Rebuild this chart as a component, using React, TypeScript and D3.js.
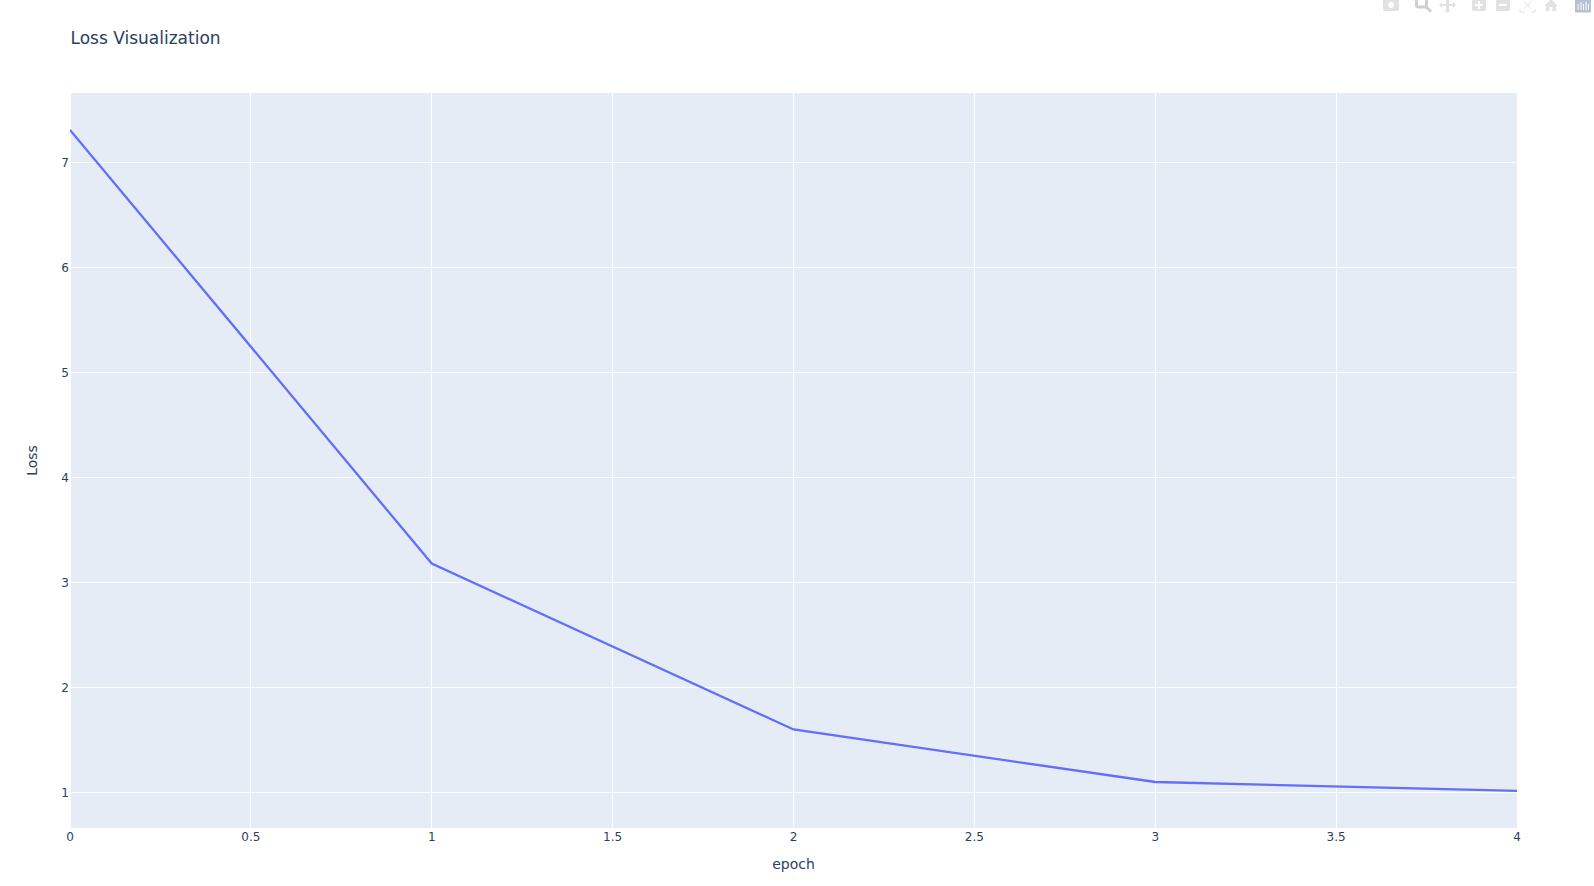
import React from "react";
import * as d3 from "d3";

const epochs = [0, 1, 2, 3, 4];
const losses = [7.31, 3.18, 1.6, 1.1, 1.015];
const xTicks = [0, 0.5, 1, 1.5, 2, 2.5, 3, 3.5, 4];
const yTicks = [1, 2, 3, 4, 5, 6, 7];
const titleText = "Loss Visualization";
const xTitle = "epoch";
const yTitle = "Loss";

const W = 1594, H = 886;
const L = 71, R = 1517, T = 93, B = 828;
const FONT = '"DejaVu Sans", Verdana, sans-serif';
const INK = "#2a3f5f";
const GREY = "#e2e2e2";

export default function App() {
  const x = d3.scaleLinear().domain([0, 4]).range([70, 1517]);
  const y = d3.scaleLinear().domain([1, 7]).range([792.5, 162.5]);
  const line = d3.line<number>().x((_, i) => x(epochs[i])).y((d) => y(d));
  const crisp = (v: number) => Math.floor(v) + 0.5;
  return (
    <svg width={W} height={H} style={{ position: "absolute", left: 0, top: 0 }} fontFamily={FONT}>
      <rect width={W} height={H} fill="#fff" />
      <rect x={L} y={T} width={R - L} height={B - T} fill="#e5ecf6" />
      {xTicks.map((t) => (
        <line key={t} x1={crisp(x(t))} x2={crisp(x(t))} y1={T} y2={B} stroke="#fff" strokeWidth={1} />
      ))}
      {yTicks.map((t) => (
        <line key={t} x1={L} x2={R} y1={y(t)} y2={y(t)} stroke="#fff" strokeWidth={1} />
      ))}
      <clipPath id="plot"><rect x={L - 1} y={T} width={R - L + 1} height={B - T} /></clipPath>
      <path d={line(losses)!} fill="none" stroke="#636efa" strokeWidth={2.3} clipPath="url(#plot)" />
      {xTicks.map((t) => (
        <text key={t} x={x(t)} y={841} textAnchor="middle" fontSize={12} fill={INK}>{t}</text>
      ))}
      {yTicks.map((t) => (
        <text key={t} x={69} y={y(t) + 4.5} textAnchor="end" fontSize={12} fill={INK}>{t}</text>
      ))}
      <text x={70.5} y={43.5} fontSize={17} fill={INK}>{titleText}</text>
      <text x={793.5} y={869} textAnchor="middle" fontSize={14} fill={INK}>{xTitle}</text>
      <text transform="translate(37,460.5) rotate(-90)" textAnchor="middle" fontSize={14} fill={INK}>{yTitle}</text>

      {/* modebar */}
      <g fill={GREY}>
        <g>
          <rect x={1383} y={-2} width={16} height={13} rx={2} />
          <circle cx={1391} cy={5} r={3} fill="#fff" />
        </g>
        <g>
          <rect x={1416.5} y={-2} width={10} height={9} rx={2} fill="none" stroke="#cfcfcf" strokeWidth={3} />
          <line x1={1426} y1={7} x2={1431} y2={11.5} stroke="#cfcfcf" strokeWidth={3} />
        </g>
        <g>
          <path d="M1439 5l3-3v2h4v-4h-2l3.500-3 3.500 3h-2v4h4v-2l3 3-3 3v-2h-4v4h2l-3.500 3-3.500-3h2v-4h-4v2z" />
        </g>
        <g>
          <rect x={1472} y={-2} width={14} height={13} rx={1} />
          <path d="M1475 5h8M1479 1v8" stroke="#fff" strokeWidth={2} />
        </g>
        <g>
          <rect x={1496} y={-2} width={14} height={13} rx={1} />
          <path d="M1499 5h8" stroke="#fff" strokeWidth={2} />
        </g>
        <g fill="none" stroke={GREY} strokeWidth={1}>
          <path d="M1520 9v3h4M1535 9v3h-4M1524 1l7 8M1531 1l-7 8" />
        </g>
        <path d="M1551 -1l7 7h-2v5h-3.500v-4h-3v4h-3.500v-5h-2z" />
        <g>
          <rect x={1575} y={-2} width={16} height={14.500} fill="#b6c0d2" />
          <path d="M1578 4v6M1581 2v8M1583.500 4v6M1586 2v8M1588.500 4v6" stroke="#fff" strokeWidth={1} />
        </g>
      </g>
    </svg>
  );
}
